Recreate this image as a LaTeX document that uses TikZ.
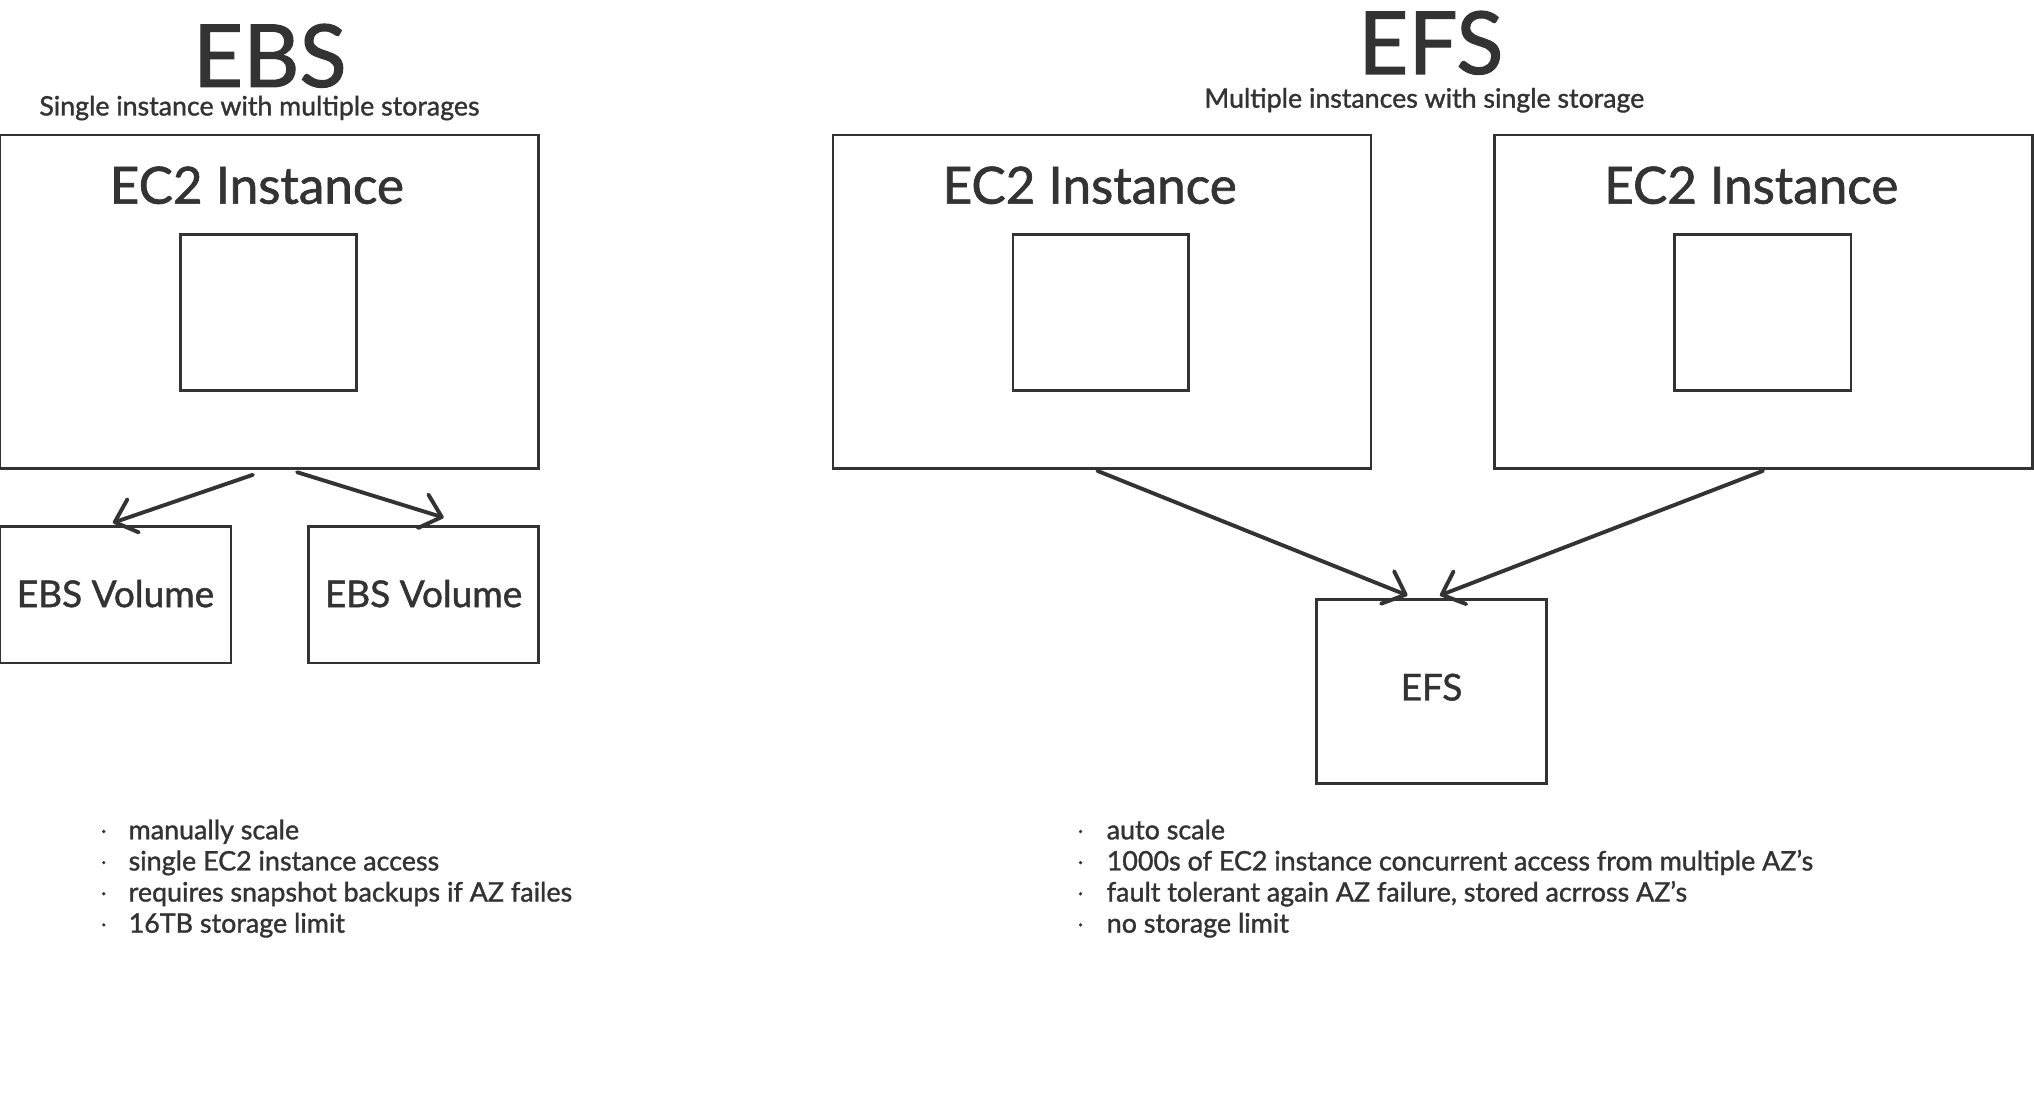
\documentclass[tikz,border=0pt]{standalone}
\usepackage{fontspec}
\setmainfont{Lato}[FakeBold=1.3]
\usetikzlibrary{arrows.meta}
\definecolor{ink}{HTML}{333333}
\tikzset{
  box/.style={draw=ink, line width=2pt, inner sep=0pt, fill=white},
  txt/.style={text=ink, inner sep=0pt, anchor=base},
  title/.style={txt, font=\fontsize{67}{72}\selectfont},
  subtitle/.style={txt, font=\fontsize{20.6}{23}\selectfont},
  boxlabel/.style={txt, font=\fontsize{39.5}{44}\selectfont},
  vollabel/.style={txt, font=\fontsize{28.5}{32}\selectfont},
  bullettext/.style={txt, anchor=base west, font=\fontsize{20.7}{23}\selectfont},
  link/.style={draw=ink, line width=3pt, line cap=round, line join=round,
    -{Straight Barb[length=15pt,width=27pt,line width=3pt,round]}},
}
\begin{document}
\begin{tikzpicture}[x=1pt,y=-1pt]
\useasboundingbox[fill=white] (0,0) rectangle (1568,851);

% ---------- EBS side ----------
\node[title] (ebsT) at (208,67) {EBS};
\node[subtitle] (ebsS) at (200,89) {Single instance with multiple storages};

\node[box, minimum width=415pt, minimum height=257pt] (ec2a) at (207.5,232.5) {};
\node[boxlabel] (ec2aL) at (198,157) {EC2 Instance};
\node[box, minimum width=136pt, minimum height=120pt] (ina) at (207,241) {};

\node[box, minimum width=178pt, minimum height=105pt] (vol1) at (89,458.5) {};
\node[vollabel] (vol1L) at (89,468) {EBS Volume};
\node[box, minimum width=177pt, minimum height=105pt] (vol2) at (326.5,458.5) {};
\node[vollabel] (vol2L) at (326.5,468) {EBS Volume};

\draw[link] ([xshift=-12.5pt,yshift=-4pt]ec2a.south) -- ([xshift=-2pt,yshift=2pt]vol1.north);
\draw[link] ([xshift=21.5pt,yshift=-2pt]ec2a.south) -- ([xshift=15.5pt,yshift=6pt]vol2.north);

% ---------- EFS side ----------
\node[title] (efsT) at (1103,57) {EFS};
\node[subtitle] (efsS) at (1098,83) {Multiple instances with single storage};

\node[box, minimum width=415pt, minimum height=257pt] (ec2b) at (849.5,232.5) {};
\node[boxlabel] (ec2bL) at (840,157) {EC2 Instance};
\node[box, minimum width=135pt, minimum height=120pt] (inb) at (848.5,241) {};

\node[box, minimum width=415pt, minimum height=257pt] (ec2c) at (1359.5,232.5) {};
\node[boxlabel] (ec2cL) at (1350,157) {EC2 Instance};
\node[box, minimum width=136pt, minimum height=120pt] (inc) at (1359,241) {};

\node[box, minimum width=177pt, minimum height=142pt] (efs) at (1103.5,533) {};
\node[vollabel] (efsL) at (1103.5,540) {EFS};

\draw[link] ([xshift=-3.5pt,yshift=-1pt]ec2b.south) -- ([xshift=-18.5pt,yshift=2pt]efs.north);
\draw[link] ([xshift=-0.5pt,yshift=-1pt]ec2c.south) -- ([xshift=6.5pt,yshift=2pt]efs.north);

% ---------- bullet lists ----------
\foreach \y/\t [count=\i] in {647/manually scale, 671/single EC2 instance access, 695/requires snapshot backups if AZ failes, 719/16TB storage limit}{
  \fill[ink] (80,\y-6) circle (1.4pt);
  \node[bullettext] (ebsB\i) at (99,\y) {\t};
}
\foreach \y/\t [count=\i] in {647/auto scale, 671/1000s of EC2 instance concurrent access from multiple AZ's, 695/{fault tolerant again AZ failure, stored acrross AZ's}, 719/no storage limit}{
  \fill[ink] (833,\y-6) circle (1.4pt);
  \node[bullettext] (efsB\i) at (853,\y) {\t};
}
\end{tikzpicture}
\end{document}
